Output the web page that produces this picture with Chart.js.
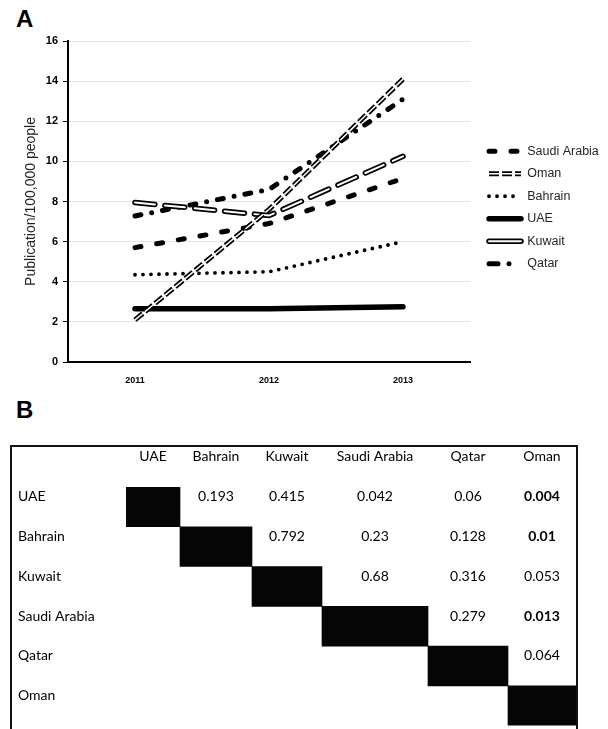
<!DOCTYPE html>
<html>
<head>
<meta charset="utf-8">
<title>Publications per 100,000 people</title>
<script src="https://cdn.jsdelivr.net/npm/chart.js@4.4.1/dist/chart.umd.min.js"></script>
<style>
    html, body { margin: 0; padding: 0; background: #fff; width: 608px; height: 729px; overflow: hidden; }
    .panel { position: absolute; left: 16px; font-family: "Liberation Sans", Arial, sans-serif; font-weight: bold; font-size: 24px; line-height: 24px; color: #000; }
    #wrapA { position: absolute; left: 0; top: 0; width: 608px; height: 395px; }
    #boxB { position: absolute; left: 10px; top: 445px; width: 568px; height: 300px; border: 2px solid #111; box-sizing: border-box; }
    #wrapB { position: absolute; left: 0; top: 0; width: 564px; height: 290px; }
</style>
</head>
<body>
<div class="panel" style="top:7px">A</div>
<div id="wrapA"><canvas id="chartA"></canvas></div>
<div class="panel" style="top:398px">B</div>
<div id="boxB"><div id="wrapB"><canvas id="chartB"></canvas></div></div>

<script>
// grafico A - publicacoes por 100.000 pessoas
var years = ["2011", "2012", "2013"];
var saudiArabia = [5.7, 6.9, 9.15];
var oman = [2.1, 7.6, 14.1];
var bahrain = [4.35, 4.5, 6.0];
var uae = [2.65, 2.65, 2.75];
var kuwait = [7.95, 7.3, 10.25];
var qatar = [7.28, 8.6, 13.1];
var yMin = 0, yMax = 16, yStep = 2;

// tabela B - valores p entre paises
var countries = ["UAE", "Bahrain", "Kuwait", "Saudi Arabia", "Qatar", "Oman"];
var pUAE = [null, 0.193, 0.415, 0.042, 0.06, 0.004];
var pBahrain = [null, null, 0.792, 0.23, 0.128, 0.01];
var pKuwait = [null, null, null, 0.68, 0.316, 0.053];
var pSaudiArabia = [null, null, null, null, 0.279, 0.013];
var pQatar = [null, null, null, null, null, 0.064];
var pOman = [null, null, null, null, null, null];
var boldBelow = 0.017;

// layout da tabela (larguras das colunas em px)
var colWidths = [54, 72, 70, 106, 80, 68];
var colEdges = [0];
colWidths.forEach(function (w, i) { colEdges.push(colEdges[i] + w); });
var colCenters = colWidths.map(function (w, i) { return colEdges[i] + w / 2; });

var fontTicks = "'Liberation Sans', Arial, sans-serif";
var fontTable = "Lato, 'Open Sans', sans-serif";

// legenda: linha branca por cima das linhas duplas (Oman, Kuwait)
var legendTweak = {
    id: 'legendTweak',
    afterLayout: function (chart) {
        var lg = chart.legend;
        lg.left += 9; lg.right += 9;
        lg.top += 6; lg.bottom += 6;
    },
    afterDraw: function (chart) {
        var lg = chart.legend, ctx = chart.ctx;
        lg.legendItems.forEach(function (item, i) {
            var box = lg.legendHitBoxes[i];
            chart.data.datasets.forEach(function (ds) {
                if (!ds.overlay || ds.parentLabel !== item.text) return;
                var y = box.top + box.height / 2;
                ctx.save();
                ctx.strokeStyle = ds.borderColor;
                ctx.lineWidth = ds.borderWidth;
                ctx.lineCap = ds.borderCapStyle || 'butt';
                ctx.setLineDash(ds.legendDash || ds.borderDash || []);
                ctx.beginPath();
                ctx.moveTo(box.left, y);
                ctx.lineTo(box.left + 32, y);
                ctx.stroke();
                ctx.restore();
            });
        });
    }
};

var lineData = {
    labels: years,
    datasets: [
        {
            label: "Saudi Arabia",
            data: saudiArabia,
            borderColor: "#000",
            borderWidth: 5,
            borderDash: [6, 16],
            borderCapStyle: 'round',
            order: 10
        },
        {
            label: "Oman",
            data: oman,
            borderColor: "#000",
            borderWidth: 5,
            borderDash: [10, 3],
            order: 7
        },
        {
            label: "Bahrain",
            data: bahrain,
            borderColor: "#000",
            borderWidth: 3.8,
            borderDash: [0, 8],
            borderCapStyle: 'round',
            order: 10
        },
        {
            label: "UAE",
            data: uae,
            borderColor: "#000",
            borderWidth: 5.5,
            borderCapStyle: 'round',
            order: 10
        },
        {
            label: "Kuwait",
            data: kuwait,
            borderColor: "#000",
            borderWidth: 5.5,
            borderDash: [20, 10],
            legendDash: [],
            borderCapStyle: 'round',
            order: 9
        },
        {
            label: "Qatar",
            data: qatar,
            borderColor: "#000",
            borderWidth: 5,
            borderDash: [6, 11, 0, 11],
            legendDash: [9, 11, 0, 20],
            borderCapStyle: 'round',
            order: 10
        },
        {
            label: "Kuwait inner",
            overlay: true,
            parentLabel: "Kuwait",
            data: kuwait,
            borderColor: "#fff",
            borderWidth: 2,
            borderDash: [20, 10],
            legendDash: [],
            borderCapStyle: 'round',
            order: 8
        },
        {
            label: "Oman inner",
            overlay: true,
            parentLabel: "Oman",
            data: oman,
            borderColor: "#fff",
            borderWidth: 1.5,
            borderDash: [10, 3],
            order: 6
        }
    ]
};

var lineOptions = {
    responsive: true,
    maintainAspectRatio: false,
    animation: false,
    layout: { padding: { left: 0, top: 41, right: 18, bottom: 0 } },
    elements: { point: { radius: 0 }, line: { tension: 0 } },
    plugins: {
        tooltip: { enabled: false },
        legend: {
            position: 'right',
            fullSize: false,
            maxWidth: 120,
            labels: {
                usePointStyle: true,
                pointStyle: 'line',
                pointStyleWidth: 32,
                padding: 10,
                color: '#262626',
                font: { family: fontTicks, size: 12.5 },
                filter: function (item, data) { return !data.datasets[item.datasetIndex].overlay; },
                sort: function (a, b) { return a.datasetIndex - b.datasetIndex; },
                generateLabels: function (chart) {
                    var items = Chart.defaults.plugins.legend.labels.generateLabels(chart);
                    items.forEach(function (it) {
                        var ds = chart.data.datasets[it.datasetIndex];
                        it.lineWidth = ds.borderWidth;
                        it.lineDash = ds.legendDash || ds.borderDash || [];
                        it.lineCap = ds.borderCapStyle || 'butt';
                        it.strokeStyle = ds.borderColor;
                        it.fillStyle = ds.borderColor;
                    });
                    return items;
                }
            }
        }
    },
    scales: {
        x: {
            offset: true,
            grid: { display: false, drawTicks: false },
            border: { color: '#000', width: 2 },
            ticks: { color: '#000', padding: 13, font: { family: fontTicks, size: 9, weight: 'bold' } },
            afterFit: function (scale) { scale.height = 33; }
        },
        y: {
            min: yMin,
            max: yMax,
            grid: { color: '#e4e4e4', tickColor: '#000', tickLength: 5 },
            border: { color: '#000', width: 2 },
            ticks: { stepSize: yStep, color: '#000', padding: 5, font: { family: fontTicks, size: 11, weight: 'bold' } },
            title: {
                display: true,
                text: 'Publication/100,000 people',
                color: '#222',
                padding: { top: 23, bottom: 0 },
                font: { family: fontTicks, size: 14 }
            },
            afterFit: function (scale) { scale.width = 68; }
        }
    }
};

var ctxA = document.getElementById("chartA").getContext("2d");
new Chart(ctxA, { type: 'line', data: lineData, options: lineOptions, plugins: [legendTweak] });

// valores p escritos nas celulas
var cellText = {
    id: 'cellText',
    afterDatasetsDraw: function (chart) {
        var ctx = chart.ctx, xs = chart.scales.x, ys = chart.scales.y;
        var rows = [pUAE, pBahrain, pKuwait, pSaudiArabia, pQatar, pOman];
        ctx.save();
        ctx.textAlign = 'center';
        ctx.textBaseline = 'middle';
        ctx.fillStyle = '#000';
        rows.forEach(function (row, i) {
            row.forEach(function (p, j) {
                if (p === null) return;
                ctx.font = (p < boldBelow ? 'bold ' : '') + '14px ' + fontTable;
                ctx.fillText(String(p), xs.getPixelForValue(colCenters[j]), ys.getPixelForValue(i) - 10);
            });
        });
        ctx.restore();
    }
};

var matrixData = {
    labels: countries,
    datasets: [
        {
            data: countries.map(function (c, i) { return [colEdges[i], colEdges[i + 1]]; }),
            backgroundColor: '#050505',
            borderWidth: 0,
            barPercentage: 1,
            categoryPercentage: 1
        }
    ]
};

var matrixOptions = {
    indexAxis: 'y',
    responsive: true,
    maintainAspectRatio: false,
    animation: false,
    layout: { padding: { left: 6, top: 0, right: 0, bottom: 6 } },
    plugins: { legend: { display: false }, tooltip: { enabled: false } },
    scales: {
        x: {
            type: 'linear',
            position: 'top',
            min: 0,
            max: colEdges[colEdges.length - 1],
            grid: { display: false, drawTicks: false },
            border: { display: false },
            afterBuildTicks: function (scale) {
                scale.ticks = colCenters.map(function (v) { return { value: v }; });
            },
            ticks: {
                autoSkip: false,
                maxRotation: 0,
                padding: 22,
                color: '#000',
                font: { family: fontTable, size: 14 },
                callback: function (value, index) { return countries[index]; }
            },
            afterFit: function (scale) {
                scale.height = 40;
                scale.paddingLeft = 0;
                scale.paddingRight = 0;
            }
        },
        y: {
            grid: { display: false, drawTicks: false },
            border: { display: false },
            ticks: { crossAlign: 'far', labelOffset: -10, color: '#000', font: { family: fontTable, size: 14 } },
            afterFit: function (scale) { scale.width = 108; }
        }
    }
};

var ctxB = document.getElementById("chartB").getContext("2d");
new Chart(ctxB, { type: 'bar', data: matrixData, options: matrixOptions, plugins: [cellText] });
</script>
</body>
</html>
